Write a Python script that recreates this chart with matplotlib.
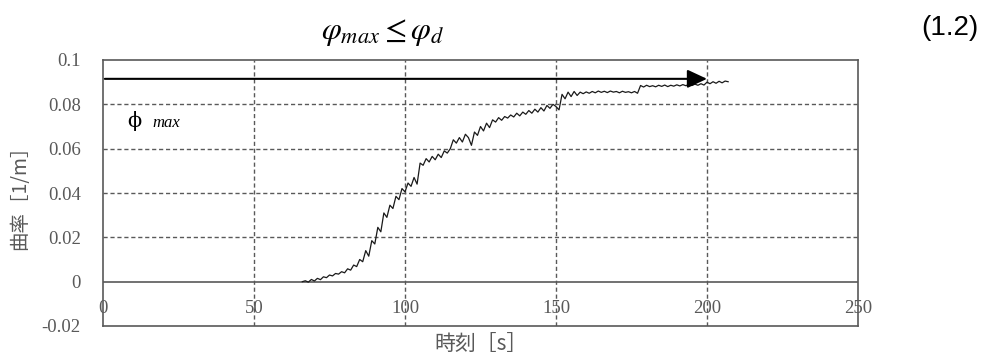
import numpy as np
import matplotlib
matplotlib.use("Agg")
import matplotlib.pyplot as plt

# 曲率の時刻歴 (1秒ごと, 66s〜207s)
t_inicio = 66
curvatura = [
    0.0000, 0.0004, -0.0002, 0.0010, 0.0003, 0.0015, 0.0009, 0.0022, 0.0018, 0.0030,
    0.0026, 0.0037, 0.0034, 0.0045, 0.0040, 0.0058, 0.0052, 0.0075, 0.0068, 0.0100,
    0.0090, 0.0140, 0.0115, 0.0185, 0.0170, 0.0245, 0.0225, 0.0310, 0.0290, 0.0345,
    0.0330, 0.0385, 0.0370, 0.0420, 0.0405, 0.0445, 0.0430, 0.0470, 0.0440, 0.0535,
    0.0525, 0.0555, 0.0540, 0.0565, 0.0550, 0.0575, 0.0560, 0.0590, 0.0580, 0.0600,
    0.0640, 0.0625, 0.0650, 0.0630, 0.0665, 0.0650, 0.0615, 0.0675, 0.0660, 0.0700,
    0.0680, 0.0715, 0.0695, 0.0730, 0.0720, 0.0740, 0.0728, 0.0745, 0.0738, 0.0752,
    0.0743, 0.0760, 0.0748, 0.0765, 0.0755, 0.0772, 0.0760, 0.0778, 0.0765, 0.0785,
    0.0770, 0.0795, 0.0782, 0.0800, 0.0790, 0.0775, 0.0845, 0.0825, 0.0855, 0.0835,
    0.0858, 0.0840, 0.0855, 0.0848, 0.0856, 0.0850, 0.0858, 0.0852, 0.0860, 0.0854,
    0.0859, 0.0853, 0.0860, 0.0855, 0.0858, 0.0852, 0.0859, 0.0854, 0.0857, 0.0852,
    0.0858, 0.0850, 0.0885, 0.0878, 0.0886, 0.0880, 0.0884, 0.0879, 0.0886, 0.0881,
    0.0887, 0.0880, 0.0886, 0.0882, 0.0888, 0.0883, 0.0889, 0.0884, 0.0890, 0.0885,
    0.0891, 0.0886, 0.0893, 0.0887, 0.0900, 0.0893, 0.0902, 0.0895, 0.0904, 0.0897,
    0.0905, 0.0902,
]
tiempo = np.arange(t_inicio, t_inicio + len(curvatura))

# φmax の矢印
phi_max = 0.0915
flecha_x = [0.6, 200]

xticks = [0, 50, 100, 150, 200, 250]
yticks = [-0.02, 0, 0.02, 0.04, 0.06, 0.08, 0.1]
ytick_labels = ["-0.02", "0", "0.02", "0.04", "0.06", "0.08", "0.1"]

gris = "#595959"
plt.rcParams["mathtext.fontset"] = "stix"

fig = plt.figure(figsize=(9.84, 3.56), dpi=100)
ax = fig.add_axes([103 / 984, 30 / 356, 755 / 984, 266 / 356])

ax.set_xlim(0, 250)
ax.set_ylim(-0.02, 0.1)

# グリッド (点線), 0 の線は実線
for x in xticks[1:-1]:
    ax.axvline(x, color=gris, lw=1.0, ls=(0, (3, 2)), zorder=1)
for y in yticks[2:-1]:
    ax.axhline(y, color=gris, lw=1.0, ls=(0, (3, 2)), zorder=1)
ax.axhline(0, color=gris, lw=1.2, zorder=1)

for s in ax.spines.values():
    s.set_color(gris)
    s.set_linewidth(1.2)

ax.plot(tiempo, curvatura, color="#1a1a1a", lw=0.9, zorder=3)

ax.annotate("", xy=(flecha_x[1], phi_max), xytext=(flecha_x[0], phi_max),
            arrowprops=dict(arrowstyle="-|>,head_length=0.6,head_width=0.28",
                            mutation_scale=20, color="black", lw=1.5,
                            shrinkA=0, shrinkB=0), zorder=4)
ax.text(8, 0.0725, "ϕ", fontsize=15, family="DejaVu Serif", va="center", ha="left")
ax.text(16.5, 0.0718, "max", fontsize=12, family="Liberation Serif",
        style="italic", va="center", ha="left")

ax.set_xticks(xticks)
ax.set_xticklabels([str(v) for v in xticks])
ax.set_yticks(yticks)
ax.set_yticklabels(ytick_labels)
ax.tick_params(length=0, labelcolor=gris, labelsize=13.5)
ax.tick_params(axis="x", pad=-19)
ax.tick_params(axis="y", pad=16)
for lab in ax.get_xticklabels() + ax.get_yticklabels():
    lab.set_family("Liberation Serif")

ax.set_ylabel("曲率［1/m］", family=["Noto Sans CJK JP", "DejaVu Sans"],
              fontsize=14, color=gris, labelpad=8)
ax.set_xlabel("時刻［s］", family=["Noto Sans CJK JP", "DejaVu Sans"],
              fontsize=15, color=gris, labelpad=5)

# 上部の式
fig.text(383 / 984, 1 - 32 / 356, r"$\varphi_{max} \leq \varphi_d$",
         fontsize=23, ha="center", va="center")
fig.text(950 / 984, 1 - 28 / 356, "(1.2)", family="Liberation Sans",
         fontsize=20, ha="center", va="center")

fig.savefig("out.png", dpi=100)
